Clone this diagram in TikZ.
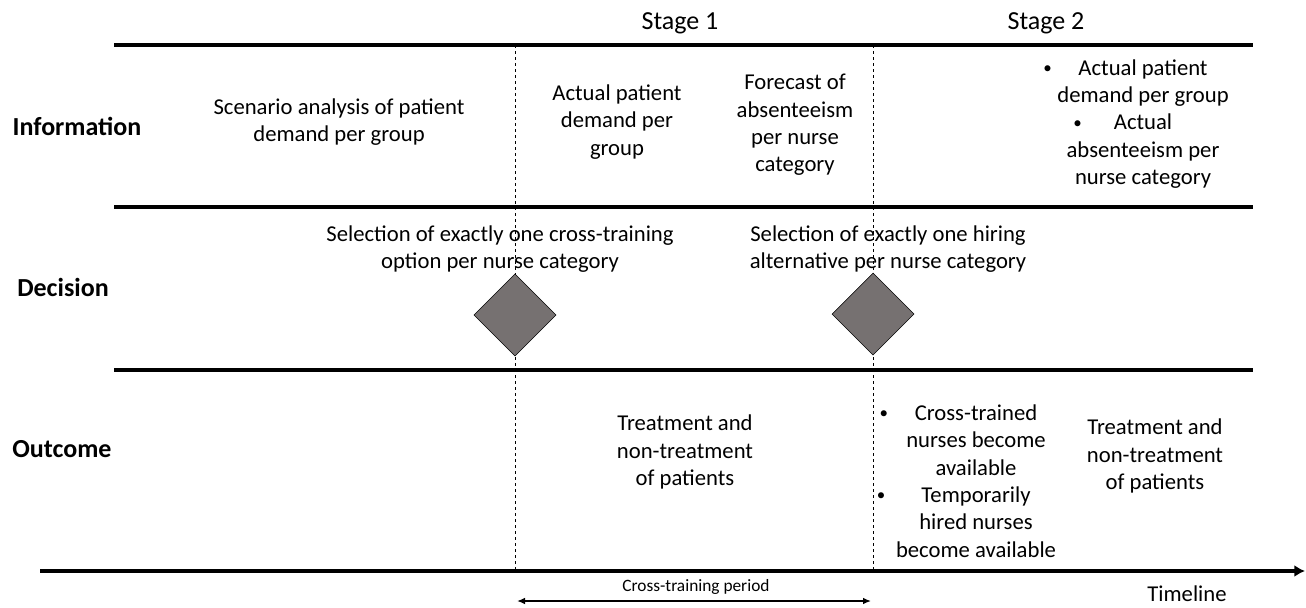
\documentclass[tikz,border=0pt]{standalone}
\usepackage{fontspec}
\setmainfont{Carlito}
\usepackage{tikz}
\usetikzlibrary{shapes.geometric,arrows.meta}
\tikzset{>=latex}
\definecolor{DiaCol}{RGB}{118,113,113}
\tikzstyle{rowline}=[line width=3pt]
\tikzstyle{stageline}=[dash pattern=on 2.5pt off 2pt,line width=0.6pt]
\tikzstyle{decision}=[diamond,draw=black,thin,fill=DiaCol,inner sep=0,
minimum width=61.5pt,minimum height=61.5pt]
\tikzstyle{txt}=[align=center,font=\fontsize{17}{20.5}\selectfont,inner sep=0]
\tikzstyle{stagelabel}=[font=\fontsize{19.5}{22}\selectfont,inner sep=0]
\tikzstyle{rowlabel}=[font=\fontsize{19.5}{22}\selectfont\bfseries,inner sep=0]
\tikzstyle{small}=[font=\fontsize{13}{15}\selectfont,inner sep=0]
\newcommand{\bul}[1]{\llap{\raisebox{0.15ex}{\scalebox{0.75}{\textbullet}}\hspace{#1}}}

\begin{document}
\begin{tikzpicture}[x=0.75pt,y=-0.75pt]
  \useasboundingbox (0,0) rectangle (1306,607);

  % ROW LINES
  \foreach \y in {45,207,370}
    \draw[rowline] (114,\y) -- (1253,\y);
  \draw[rowline,-{Latex[length=8pt,width=9pt]}] (40,571) -- (1305,571);

  % STAGE BOUNDARIES
  \coordinate (b1top) at (515,45);
  \coordinate (b1bot) at (515,571);
  \coordinate (b2top) at (873,45);
  \coordinate (b2bot) at (873,571);
  \draw[stageline] (b1top) -- (b1bot);
  \draw[stageline] (b2top) -- (b2bot);

  % STAGES
  \node[stagelabel] (stage1) at (680,23) {Stage 1};
  \node[stagelabel] (stage2) at (1046,23) {Stage 2};

  % ROW LABELS
  \node[rowlabel] (info) at (77,126) {Information};
  \node[rowlabel] (dec) at (63,287) {Decision};
  \node[rowlabel] (outc) at (62,449) {Outcome};

  % INFORMATION
  \node[txt] (scen) at (339,122) {Scenario analysis of patient\\demand per group};
  \node[txt] (dem1) at (617,122) {Actual patient\\demand per\\group};
  \node[txt] (fcst) at (795,125) {Forecast of\\absenteeism\\per nurse\\category};
  \node[txt] (dem2) at (1143,124) {\bul{20pt}Actual patient\\demand per group\\
    \bul{24pt}Actual\\absenteeism per\\nurse category};

  % DECISION
  \node[txt] (sel1) at (500,249) {Selection of exactly one cross-training\\option per nurse category};
  \node[txt] (sel2) at (888,249) {Selection of exactly one hiring\\alternative per nurse category};
  \node[decision] (d1) at (515,315) {};
  \node[decision] (d2) at (873,314) {};

  % OUTCOME
  \node[txt] (treat1) at (685,452) {Treatment and\\non-treatment\\of patients};
  \node[txt] (avail) at (976,481) {\bul{20pt}Cross-trained\\nurses become\\available\\
    \bul{27pt}Temporarily\\hired nurses\\become available};
  \node[txt] (treat2) at (1155,456) {Treatment and\\non-treatment\\of patients};

  % PERIOD
  \coordinate (p1) at (517,601);
  \coordinate (p2) at (871,601);
  \draw[{Latex[length=6pt,width=5pt]}-{Latex[length=6pt,width=5pt]},line width=1.1pt]
    (p1) -- (p2);
  \node[small] (period) at (696,587) {Cross-training period};
  \node[txt] (tline) at (1187,594) {Timeline};
\end{tikzpicture}
\end{document}
